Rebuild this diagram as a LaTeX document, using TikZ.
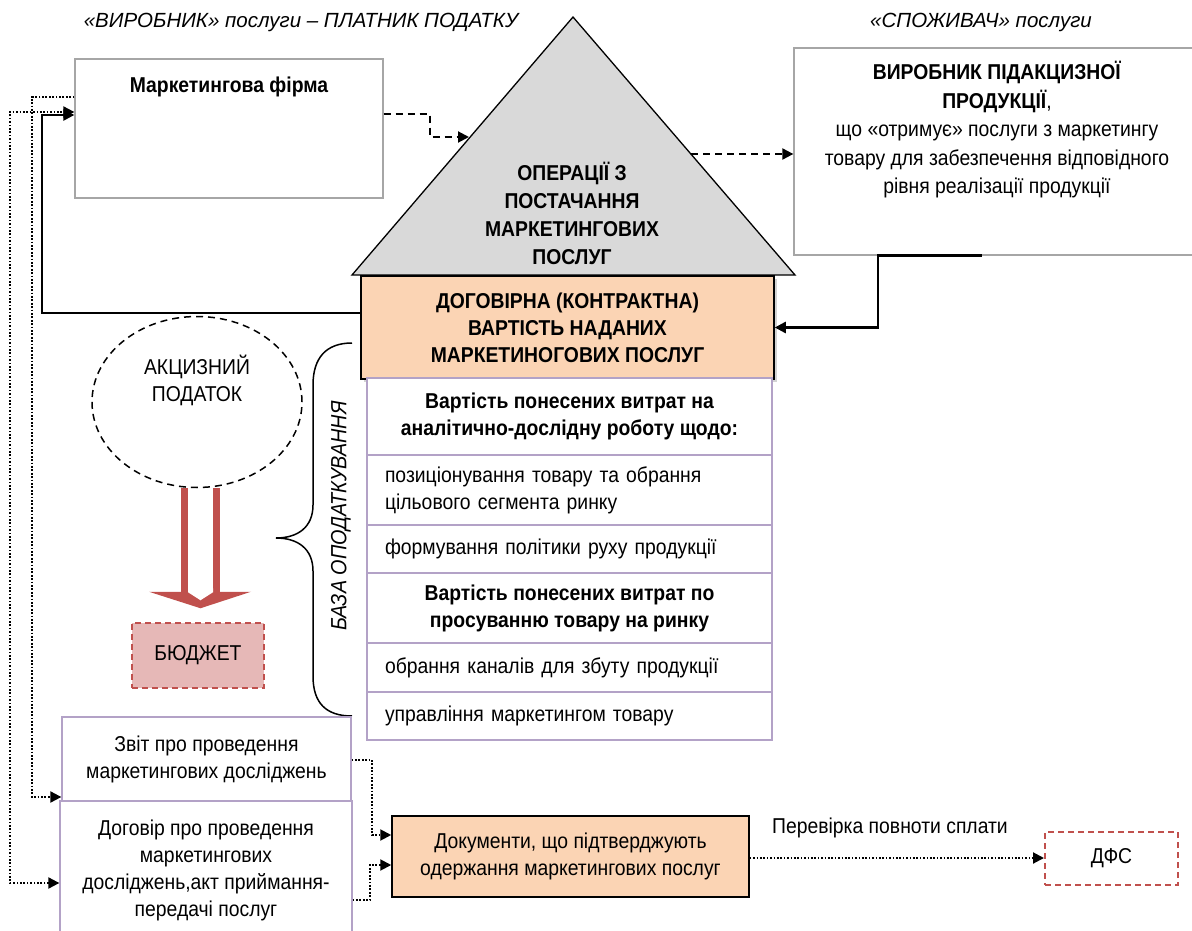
\documentclass[tikz,border=0pt]{standalone}
\usepackage{fontspec}
\setmainfont{Liberation Sans}[FakeStretch=0.9]
\newfontfamily\headfont{Liberation Sans}
\usetikzlibrary{arrows.meta,shapes.geometric,shadows,calc}
\definecolor{framegray}{HTML}{A6A6A6}
\definecolor{lilac}{HTML}{B3A2C7}
\definecolor{peach}{HTML}{FBD4B4}
\definecolor{roofgray}{HTML}{D9D9D9}
\definecolor{taxred}{HTML}{C0504D}
\definecolor{budgetpink}{HTML}{E6B8B7}
\newcommand\bodysize{\fontsize{21.5}{27}\selectfont}
\begin{document}
\begin{tikzpicture}[x=1pt,y=-1pt,
  every node/.style={font=\bodysize, inner sep=0pt},
  graybox/.style={draw=framegray, line width=1.3pt, fill=white},
  lilacbox/.style={draw=lilac, line width=1.3pt, fill=white},
  leftbox/.style={lilacbox, minimum width=405pt, text width=369pt, align=left, inner xsep=18pt},
  boldbox/.style={lilacbox, minimum width=405pt, align=center, font=\bfseries\bodysize},
  conn/.style={line width=2.4pt, -{Triangle[length=11pt,width=11pt]}},
  dotline/.style={line width=2pt, dash pattern=on 1.7pt off 1.7pt},
  dashline/.style={line width=2pt, dash pattern=on 7pt off 5pt},
  tip/.style={-{Triangle[length=11pt,width=11pt]}},
  headline/.style={font=\headfont\itshape\fontsize{20.5}{24}\selectfont},
  redframe/.style={draw=taxred, line width=2pt, dash pattern=on 6pt off 4pt},
]
\useasboundingbox (0,0) rectangle (1192,931);
\clip (0,0) rectangle (1192,931);

% headings
\node[headline] (hleft) at (301,22) {«ВИРОБНИК» послуги – ПЛАТНИК ПОДАТКУ};
\node[headline] (hright) at (981,22) {«СПОЖИВАЧ» послуги};

% marketing firm
\node[graybox, minimum width=308pt, minimum height=139pt] (firm) at (229,128.5) {};
\node[font=\bfseries\bodysize] (firmtxt) at (229,87) {Маркетингова фірма};

% consumer of the service
\node[graybox, minimum width=406pt, minimum height=207pt] (rbox) at (997,151.5) {};
\node[align=center, anchor=north, font=\fontsize{21.5}{28.5}\selectfont] (rboxtxt) at (997,61)
  {\textbf{ВИРОБНИК ПІДАКЦИЗНОЇ}\\\textbf{ПРОДУКЦІЇ},\\що «отримує» послуги з маркетингу\\товару для забезпечення відповідного\\рівня реалізації продукції};

% roof: supply operations
\draw[fill=roofgray, line width=1.3pt] (352,275) -- (573,17) -- (795,275) -- cycle;
\node[align=center, font=\bfseries\fontsize{21.5}{28}\selectfont] (roof) at (572,213)
  {ОПЕРАЦІЇ З\\ПОСТАЧАННЯ\\МАРКЕТИНГОВИХ\\ПОСЛУГ};
\coordinate (roofL) at (469,137);
\coordinate (roofR) at (691,154);

% contract value
\node[draw=black, fill=peach, line width=1.5pt, minimum width=413pt, minimum height=103pt,
      align=center, font=\bfseries\bodysize,
      drop shadow={shadow xshift=3pt, shadow yshift=-3pt, opacity=0.35}] (value) at (567.5,327.5)
  {ДОГОВІРНА (КОНТРАКТНА)\\ВАРТІСТЬ НАДАНИХ\\МАРКЕТИНОГОВИХ ПОСЛУГ};

% cost items
\node[boldbox, minimum height=77pt] (c1) at (569.5,416.5) {Вартість понесених витрат на\\аналітично-дослідну роботу щодо:};
\node[leftbox, minimum height=70pt] (c2) at (569.5,490) {позиціонування товару та обрання\\цільового сегмента ринку};
\node[leftbox, minimum height=48pt] (c3) at (569.5,549) {формування політики руху продукції};
\node[boldbox, minimum height=70pt] (c4) at (569.5,608) {Вартість понесених витрат по\\просуванню товару на ринку};
\node[leftbox, minimum height=49pt] (c5) at (569.5,667.5) {обрання каналів для збуту продукції};
\node[leftbox, minimum height=48pt] (c6) at (569.5,716) {управління маркетингом товару};

% tax base brace
\draw[line width=1.5pt] (352,343) .. controls (326,343) and (313,358) .. (313,385) -- (313,505)
  .. controls (313,527) and (298,538) .. (276,538)
  .. controls (298,538) and (313,549) .. (313,571) -- (313,676)
  .. controls (313,703) and (326,716) .. (352,716);
\node[rotate=90, font=\itshape\fontsize{22}{26}\selectfont] (base) at (341,516) {БАЗА ОПОДАТКУВАННЯ};

% excise tax and budget
\node[ellipse, draw=black, line width=1.5pt, dash pattern=on 7pt off 5pt,
      minimum width=210pt, minimum height=171pt] (tax) at (197,402) {};
\node[align=center] (taxtxt) at (197,380) {АКЦИЗНИЙ\\ПОДАТОК};
\node[fill=budgetpink, redframe, minimum width=132pt, minimum height=65pt] (budget) at (198,655.5) {БЮДЖЕТ};
\begin{scope}[shift={(tax.south)}]
  \fill[taxred] (-16,0) rectangle (-9,104);
  \fill[taxred] (16,0) rectangle (23,104);
  \fill[taxred] (-48,103.5) -- (54,103.5) -- (3.5,120) -- cycle;
  \fill[white] (-9,100) -- (16,100) -- (16,104) -- (3.5,112) -- (-9,104) -- cycle;
\end{scope}

% documents
\node[lilacbox, minimum width=289pt, minimum height=84pt, align=center] (report) at (206.5,759)
  {Звіт про проведення\\маркетингових досліджень};
\node[lilacbox, minimum width=292pt, minimum height=139pt, align=center] (contract) at (206,870.5)
  {Договір про проведення\\маркетингових\\досліджень,акт приймання-\\передачі послуг};
\node[draw=black, fill=peach, line width=1.5pt, minimum width=357pt, minimum height=81pt, align=center] (docs) at (570.5,856.5)
  {Документи, що підтверджують\\одержання маркетингових послуг};
\node[redframe, minimum width=133pt, minimum height=53pt] (dfs) at (1111.5,858.5) {ДФС};
\node (checklbl) at (890,828) {Перевірка повноти сплати};

% connectors
\coordinate (solidcorner) at (42,115);
\draw[conn] ([yshift=14.5pt]value.west) -| (solidcorner) -- ([yshift=13.5pt]firm.west);
\coordinate (rcorner) at (878,327.5);
\draw[conn] ([xshift=-15pt]rbox.south) -| (rcorner) -- (value.east);
\coordinate (dashcorner) at (430,137);
\draw[dashline, tip] ([yshift=14.5pt]firm.east) -| (dashcorner) -- (roofL);
\draw[dashline, tip] (roofR) -- (roofR -| rbox.west);

\coordinate (outercorner) at (10,112);
\draw[dotline, {Triangle[length=11pt,width=11pt]}-{Triangle[length=11pt,width=11pt]}]
  ([yshift=-12.5pt]contract.west) -| (outercorner) -- ([yshift=16.5pt]firm.west);
\coordinate (innercorner) at (32,97);
\draw[dotline, tip] ([yshift=31.5pt]firm.west) -| (innercorner |- 0,797) -- ([yshift=-38pt]report.west);
\coordinate (repcorner) at (372,835);
\draw[dotline, tip] ([yshift=-1pt]report.east) -| (repcorner) -- ([yshift=21.5pt]docs.west);
\coordinate (concorner) at (370,865);
\draw[dotline, tip] ([yshift=-29.5pt]contract.east) -| (concorner) -- ([yshift=-8.5pt]docs.west);
\draw[dotline, tip] ([yshift=-1.5pt]docs.east) -- ([yshift=-1.5pt]docs.east -| dfs.west);
\end{tikzpicture}
\end{document}
